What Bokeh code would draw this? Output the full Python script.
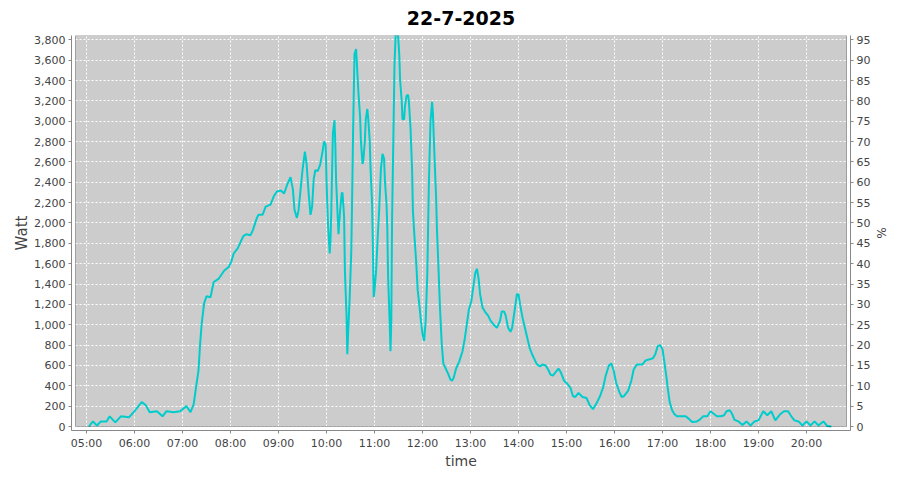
from bokeh.plotting import figure
from bokeh.models import (Range1d, LinearAxis, FixedTicker, BoxAnnotation, Legend,
                          LegendItem, ColumnDataSource, NumeralTickFormatter)
from bokeh.embed import file_html
from bokeh.resources import INLINE

title_text = "22-7-2025"
series_name = "Swanland1( 14.394 kWh )"
x_label = "time"
y_label = "Watt"
y2_label = "%"

times = [
    "05:03", "05:08", "05:13", "05:18", "05:25", "05:29", "05:36", "05:43", "05:53", "05:59",
    "06:04", "06:09", "06:14", "06:19", "06:28", "06:35", "06:40", "06:49", "06:57",
    "07:05", "07:10", "07:14", "07:17", "07:20", "07:22", "07:24", "07:27", "07:30", "07:35",
    "07:39", "07:45", "07:52", "07:58",
    "08:01", "08:04", "08:09", "08:13", "08:16", "08:20", "08:25", "08:28", "08:33", "08:35",
    "08:40", "08:44", "08:50", "08:54", "08:58",
    "09:03", "09:07", "09:11", "09:15", "09:18", "09:20", "09:23", "09:25", "09:28", "09:30",
    "09:33", "09:35", "09:38", "09:40", "09:42", "09:44", "09:46", "09:49", "09:52", "09:55",
    "09:57", "09:59",
    "10:00", "10:02", "10:04", "10:05", "10:06", "10:08", "10:10", "10:11", "10:12", "10:14",
    "10:15", "10:17", "10:19", "10:20", "10:22", "10:23", "10:25", "10:26", "10:27", "10:29",
    "10:31", "10:32", "10:33", "10:34", "10:35", "10:37", "10:38", "10:40", "10:42", "10:43",
    "10:45", "10:46", "10:48", "10:49", "10:51", "10:52", "10:54", "10:55", "10:57", "10:58",
    "10:59",
    "11:00", "11:02", "11:04", "11:06", "11:08", "11:10", "11:12", "11:13", "11:15", "11:16",
    "11:17", "11:19", "11:20", "11:21", "11:22", "11:24", "11:25", "11:27", "11:29", "11:31",
    "11:32", "11:34", "11:35", "11:37", "11:38", "11:40", "11:42", "11:43", "11:45", "11:47",
    "11:48", "11:50", "11:52", "11:54", "11:56", "11:58",
    "12:00", "12:02", "12:04", "12:06", "12:08", "12:10", "12:12", "12:13", "12:15", "12:17",
    "12:18", "12:20", "12:22", "12:24", "12:26", "12:29", "12:32", "12:35", "12:37", "12:39",
    "12:42", "12:46", "12:50", "12:53", "12:56", "12:58",
    "13:01", "13:04", "13:06", "13:08", "13:10", "13:12", "13:15", "13:18", "13:22", "13:25",
    "13:29", "13:33", "13:37", "13:39", "13:42", "13:44", "13:47", "13:50", "13:52", "13:55",
    "13:58",
    "14:00", "14:02", "14:05", "14:08", "14:11", "14:14", "14:17", "14:20", "14:23", "14:27",
    "14:30", "14:34", "14:37", "14:40", "14:43", "14:46", "14:50", "14:53", "14:57",
    "15:01", "15:05", "15:08", "15:11", "15:15", "15:20", "15:25", "15:29", "15:33", "15:37",
    "15:42", "15:46", "15:49", "15:53", "15:56", "15:59",
    "16:02", "16:06", "16:09", "16:12", "16:17", "16:21", "16:24", "16:28", "16:35", "16:39",
    "16:44", "16:48", "16:51", "16:54", "16:57",
    "17:00", "17:02", "17:05", "17:07", "17:09", "17:12", "17:15", "17:18", "17:23", "17:29",
    "17:33", "17:37", "17:43", "17:47", "17:51", "17:56",
    "18:00", "18:04", "18:08", "18:13", "18:17", "18:20", "18:24", "18:27", "18:30", "18:35",
    "18:40", "18:45", "18:50", "18:55",
    "19:00", "19:06", "19:11", "19:16", "19:21", "19:27", "19:32", "19:37", "19:41", "19:45",
    "19:50", "19:55",
    "20:00", "20:05", "20:10", "20:15", "20:21", "20:26", "20:31",
]

watts = [
    0, 50, 10, 50, 50, 100, 40, 100, 90, 140,
    190, 240, 210, 140, 150, 100, 150, 140, 150,
    200, 140, 220, 390, 550, 810, 1010, 1210, 1280, 1270,
    1420, 1450, 1530, 1570,
    1620, 1700, 1750, 1820, 1870, 1890, 1880, 1930, 2050, 2080,
    2080, 2160, 2180, 2260, 2310,
    2320, 2290, 2380, 2450, 2330, 2130, 2050, 2120, 2360, 2520,
    2700, 2590, 2260, 2080, 2160, 2430, 2520, 2510, 2570, 2700,
    2800, 2770,
    2420, 1960, 1700, 1830, 2120, 2880, 3010, 2780, 2420, 2060,
    1890, 2120, 2290, 2300, 2060, 1530, 1100, 710, 910, 1270,
    1730, 2220, 2780, 3240, 3660, 3710, 3560, 3270, 3040, 2810,
    2580, 2610, 2810, 3010, 3120, 3040, 2810, 2550, 2190, 1760,
    1270,
    1340, 1530, 1860, 2150, 2530, 2680, 2630, 2420, 2190, 1960,
    1470, 1020, 740, 1040, 2060, 3040, 3560, 3950, 3900, 3650,
    3400, 3200, 3020, 3020, 3140, 3250, 3260, 3190, 2940, 2520,
    2120, 1860, 1630, 1340, 1200, 1040,
    910, 840, 1040, 1500, 2400, 3000, 3190, 3080, 2650, 2250,
    1950, 1550, 1140, 820, 620, 570, 520, 460, 450, 480,
    570, 640, 740, 870, 1040, 1150,
    1230, 1400, 1510, 1550, 1460, 1300, 1170, 1130, 1090, 1040,
    1000, 970, 1040, 1130, 1130, 1090, 970, 930, 970, 1130,
    1300,
    1300, 1200, 1070, 970, 870, 770, 710, 660, 610, 590,
    610, 600, 560, 510, 500, 530, 570, 530, 450,
    420, 380, 300, 290, 330, 290, 280, 210, 170, 220,
    300, 390, 500, 600, 620, 550,
    430, 340, 290, 300, 350, 450, 560, 610, 610, 650,
    660, 670, 710, 790, 800,
    760, 650, 480, 350, 240, 160, 120, 100, 100, 100,
    75, 45, 50, 70, 100, 100,
    150, 125, 100, 100, 110, 150, 160, 125, 65, 50,
    15, 50, 10, 50,
    60, 150, 110, 150, 60, 120, 150, 150, 100, 60,
    50, 10,
    50, 10, 50, 10, 50, 5, 0,
]

hour_tick_labels = ["05:00", "06:00", "07:00", "08:00", "09:00", "10:00", "11:00", "12:00",
                    "13:00", "14:00", "15:00", "16:00", "17:00", "18:00", "19:00", "20:00"]
watt_ticks = list(range(0, 3801, 200))
pct_ticks = list(range(0, 96, 5))
full_scale_watt = 4000  # 100 %


def to_hours(s):
    h, m = s.split(":")
    return int(h) + int(m) / 60.0


xs = [to_hours(t) for t in times]
hour_ticks = [to_hours(t) for t in hour_tick_labels]

# layout geometry (pixels -> data)
PX_PER_HOUR = 48.0
PX_PER_WATT = 386.7 / 3800.0
AX_GAP = 4  # axis offset from the plot area, px
WIDTH, HEIGHT = 900, 500
FRAME_W = 779
FRAME_H = 395
x_start = 5 - 15 / PX_PER_HOUR
x_end = x_start + FRAME_W / PX_PER_HOUR
y_start = -AX_GAP / PX_PER_WATT
y_end = y_start + FRAME_H / PX_PER_WATT
area_left = x_start + AX_GAP / PX_PER_HOUR
area_right = x_end - AX_GAP / PX_PER_HOUR

FONT = "DejaVu Sans"
LABEL_COLOR = "#444444"
AXIS_COLOR = "#888888"

p = figure(width=WIDTH, height=HEIGHT, frame_width=FRAME_W, frame_height=FRAME_H,
           x_range=Range1d(x_start, x_end), y_range=Range1d(y_start, y_end),
           output_backend="svg", toolbar_location=None,
           min_border_left=71, min_border_right=50, min_border_top=35, min_border_bottom=0)
p.background_fill_color = "white"
p.border_fill_color = "white"
p.outline_line_color = None

p.title.text = title_text
p.title.text_font = FONT
p.title.text_font_size = "19px"
p.title.text_font_style = "bold"
p.title.text_color = "black"
p.title.align = "center"
p.title.vertical_align = "top"
p.title.standoff = 18
p.title.offset = 0

bg = BoxAnnotation(left=area_left, right=area_right, bottom=0, top=y_end,
                   fill_color="#CCCCCC", fill_alpha=1.0, line_color=None, level="image")
p.add_layout(bg)

# grids
for g in (p.xgrid, p.ygrid):
    g.grid_line_color = "white"
    g.grid_line_dash = "2 2"
    g.grid_line_width = 1

src = ColumnDataSource(dict(x=xs, w=watts))
r = p.line("x", "w", source=src, line_color="#00CCCC", line_width=2)

border = BoxAnnotation(left=area_left, right=area_right, bottom=0, top=y_end,
                       fill_alpha=0.0, line_color="black", line_width=1, level="overlay")
p.add_layout(border)


def style_axis(ax):
    ax.axis_line_color = AXIS_COLOR
    ax.major_tick_line_color = AXIS_COLOR
    ax.major_tick_in = 0
    ax.major_tick_out = 3
    ax.minor_tick_line_color = None
    ax.major_label_text_font = FONT
    ax.major_label_text_font_size = "11px"
    ax.major_label_text_color = LABEL_COLOR
    ax.major_label_standoff = 3
    ax.axis_label_text_font = FONT
    ax.axis_label_text_font_style = "normal"
    ax.axis_label_text_color = LABEL_COLOR


xa = p.xaxis[0]
style_axis(xa)
xa.ticker = FixedTicker(ticks=hour_ticks)
xa.major_label_overrides = {v: lbl for v, lbl in zip(hour_ticks, hour_tick_labels)}
xa.axis_label = x_label
xa.axis_label_text_font_size = "14px"
xa.axis_label_standoff = 0

ya = p.yaxis[0]
style_axis(ya)
ya.ticker = FixedTicker(ticks=watt_ticks)
ya.formatter = NumeralTickFormatter(format="0,0")
ya.axis_label = y_label
ya.axis_label_text_font_size = "15px"
ya.axis_label_standoff = 0

p.extra_y_ranges = {"pct": Range1d(y_start * 100 / full_scale_watt, y_end * 100 / full_scale_watt)}
ra = LinearAxis(y_range_name="pct")
style_axis(ra)
ra.ticker = FixedTicker(ticks=pct_ticks)
ra.axis_label = y2_label
ra.axis_label_text_font_size = "12px"
ra.axis_label_standoff = 1
p.add_layout(ra, "right")

legend = Legend(items=[LegendItem(label=series_name, renderers=[r])],
                location="center", orientation="horizontal",
                border_line_color="black", border_line_width=1,
                background_fill_color="white", background_fill_alpha=1.0,
                label_text_font=FONT, label_text_font_size="11px",
                label_text_color=LABEL_COLOR, label_standoff=4,
                glyph_width=18, glyph_height=12, label_height=12,
                padding=3, margin=0, spacing=0)
p.add_layout(legend, "below")

open("out.html", "w").write(file_html(p, INLINE))
